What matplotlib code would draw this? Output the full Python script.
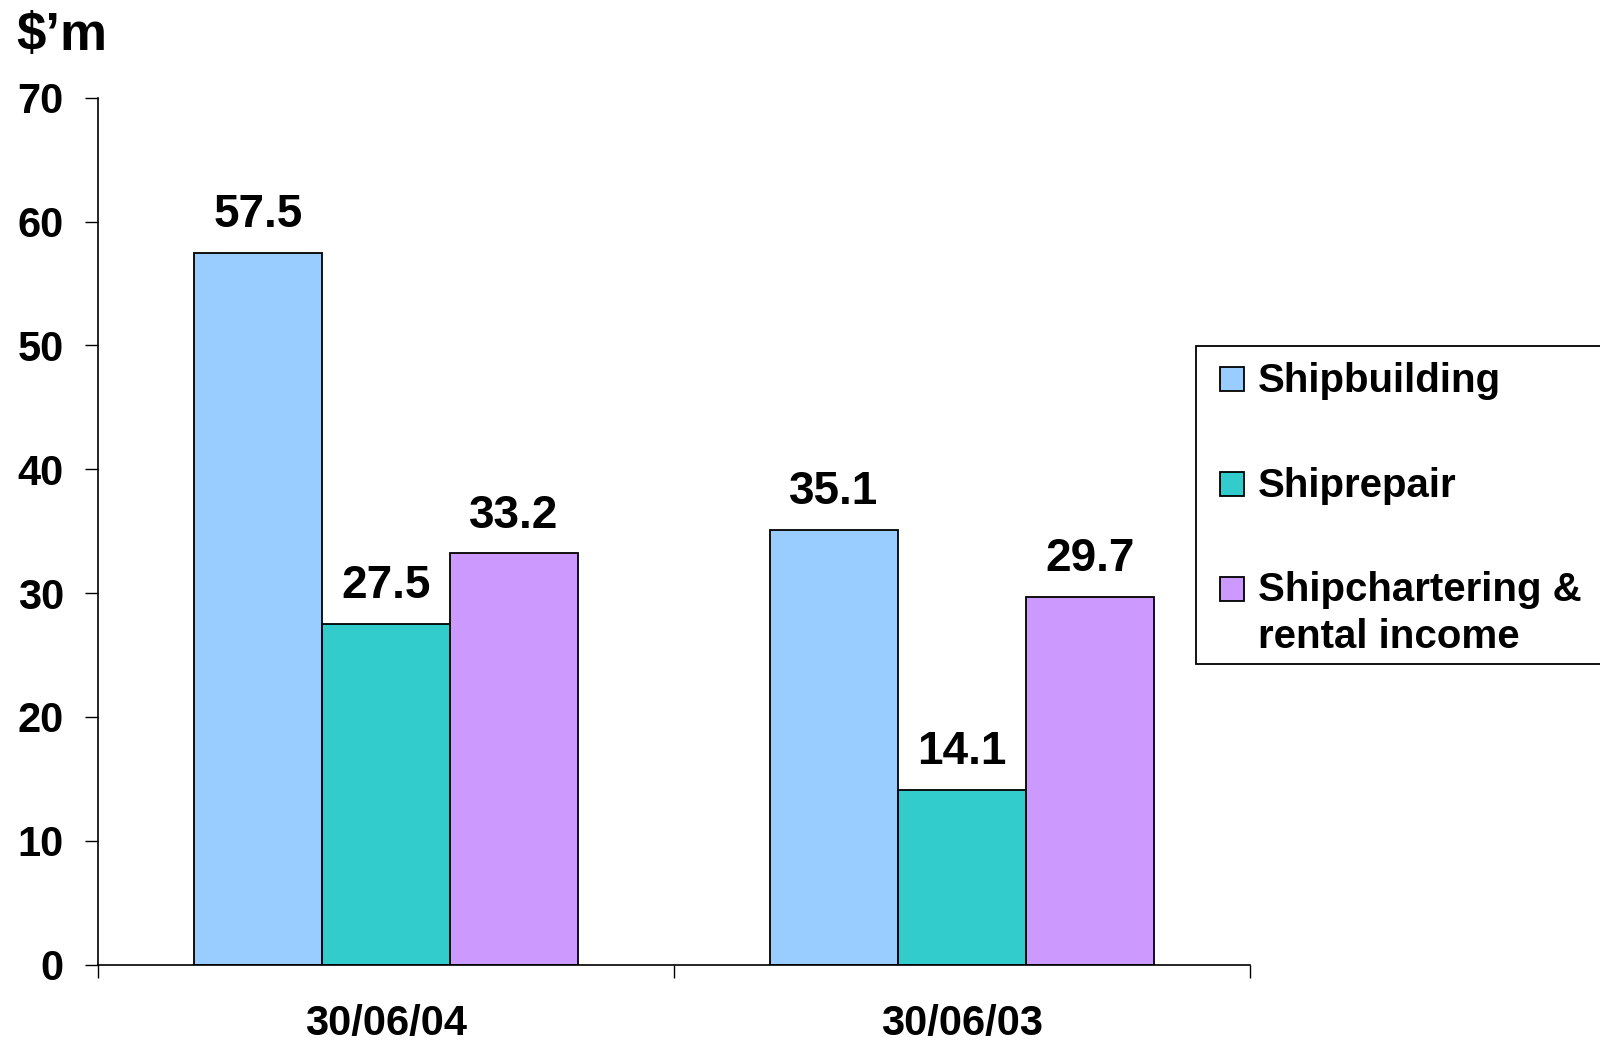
import matplotlib
matplotlib.use("Agg")
import matplotlib.pyplot as plt
from matplotlib.patches import Rectangle
import numpy as np

plt.rcParams['font.family'] = ['Liberation Sans', 'DejaVu Sans']
plt.rcParams['font.weight'] = 'bold'

# data
periods = ['30/06/04', '30/06/03']
series = ['Shipbuilding', 'Shiprepair', 'Shipchartering &\nrental income']
shipbuilding = [57.5, 35.1]
shiprepair = [27.5, 14.1]
shipchartering = [33.2, 29.7]
colors = ['#99CCFF', '#33CCCC', '#CC99FF']

W, H = 1600, 1045
fig = plt.figure(figsize=(16, 10.45), dpi=100, facecolor='white')
ax = fig.add_axes([98 / W, 80.3 / H, 0.72, 867 / H])

x = np.arange(len(periods)) + 0.5
w = 0.2222
for i, (vals, col) in enumerate(zip([shipbuilding, shiprepair, shipchartering], colors)):
    bars = ax.bar(x + (i - 1) * w, vals, w, color=col, edgecolor='black', linewidth=1.3)
    for b, v in zip(bars, vals):
        ax.annotate(f'{v:.1f}', (b.get_x() + b.get_width() / 2, v), xytext=(0, 18.5),
                    textcoords='offset points', ha='center', va='baseline',
                    fontsize=33, fontweight='bold')

ax.set_xlim(0, 2)
ax.set_ylim(0, 70)
ax.set_yticks(range(0, 71, 10))
ax.set_xticks([0, 1, 2])
ax.set_xticklabels([])
ax.set_xticks(x, minor=True)
ax.set_xticklabels(periods, minor=True)
ax.tick_params(axis='x', which='major', direction='out', length=9.5, width=1)
ax.tick_params(axis='x', which='minor', length=0, pad=28, labelsize=30)
ax.tick_params(axis='y', direction='out', length=9.5, width=1, pad=15, labelsize=30)

ax.spines['top'].set_visible(False)
ax.spines['right'].set_visible(False)
for s in ['left', 'bottom']:
    ax.spines[s].set_linewidth(1.2)

fig.text(16 / W, 1 - 50 / H, "$\u2019m", fontsize=38, fontweight='bold', va='baseline', ha='left')

# legend box (runs off the right edge, like the original)
fig.patches.append(Rectangle((1196 / W, 1 - 664 / H), 430 / W, 318 / H, transform=fig.transFigure,
                             facecolor='white', edgecolor='black', linewidth=1.3, zorder=1))
hand_top = [367, 472, 577]
base = [392, 497, 601]
for col, lab, ht, bl in zip(colors, series, hand_top, base):
    fig.patches.append(Rectangle((1220 / W, 1 - (ht + 24) / H), 24 / W, 24 / H, transform=fig.transFigure,
                                 facecolor=col, edgecolor='black', linewidth=1.3, zorder=2))
    lines = lab.split('\n')
    for k, line in enumerate(lines):
        fig.text(1258 / W, 1 - (bl + 47 * k) / H, line, fontsize=29, fontweight='bold',
                 va='baseline', ha='left', zorder=3)

fig.savefig('out.png', dpi=100)
